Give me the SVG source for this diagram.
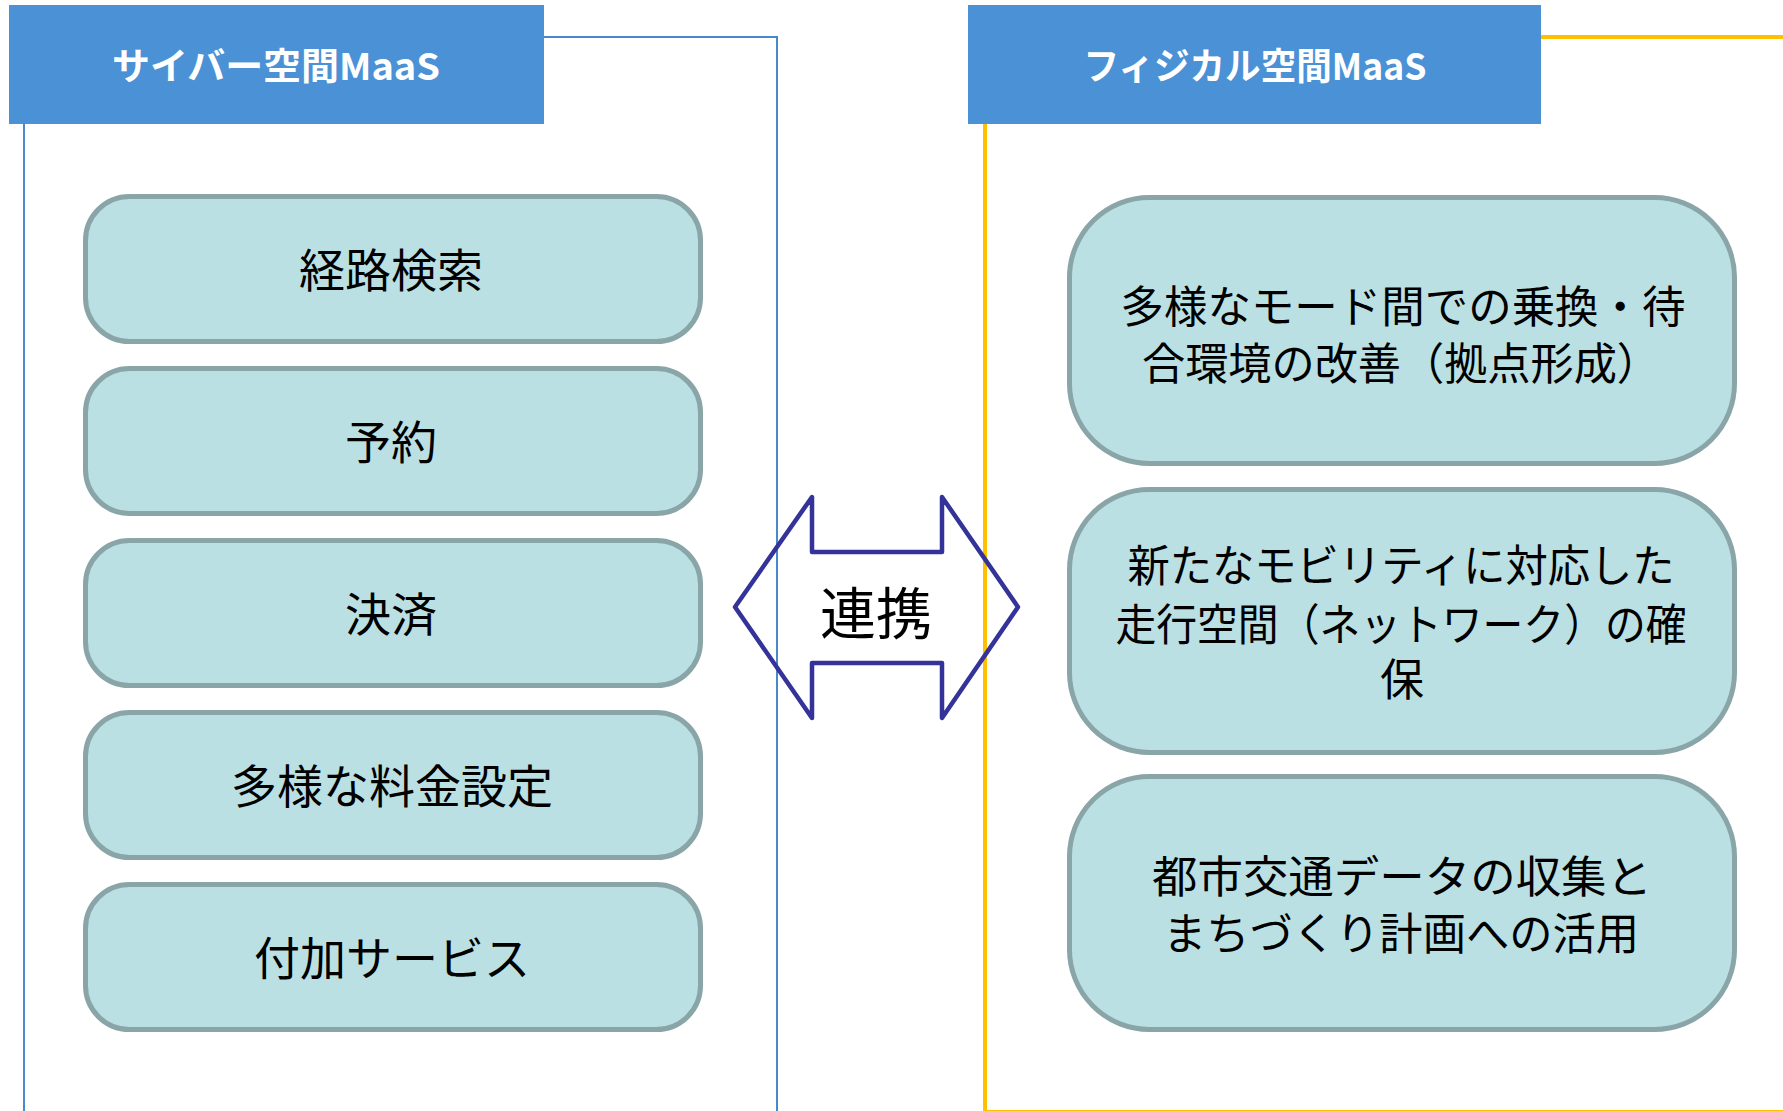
<svg xmlns="http://www.w3.org/2000/svg" width="1783" height="1111" viewBox="0 0 1783 1111">
<style>
.hdr{fill:#4a91d5}
.htxt{fill:#ffffff;font-family:"Noto Sans CJK JP","Noto Sans",sans-serif;font-weight:bold;font-size:37px;text-anchor:middle}
.box{fill:#bbe0e3;stroke:#89a5a7;stroke-width:5}
.t{fill:#000000;font-family:"Noto Sans CJK JP","Noto Sans",sans-serif;font-size:46px;text-anchor:middle}
.t2{fill:#000000;font-family:"Noto Sans CJK JP","Noto Sans",sans-serif;font-size:44px;text-anchor:middle}
</style>
<rect width="1783" height="1111" fill="#ffffff"/>
<g id="cyber">
  <rect x="24" y="37" width="753" height="1200" fill="none" stroke="#4a88cc" stroke-width="2"/>
  <rect class="hdr" x="9" y="5" width="535" height="119"/>
  <text class="htxt" x="276" y="80" textLength="328" lengthAdjust="spacingAndGlyphs">サイバー空間MaaS</text>
</g>
<g id="physical">
  <rect x="985" y="37" width="900" height="1075" fill="none" stroke="#ffc000" stroke-width="4"/>
  <rect class="hdr" x="968" y="5" width="573" height="119"/>
  <text class="htxt" x="1255" y="80" textLength="343" lengthAdjust="spacingAndGlyphs">フィジカル空間MaaS</text>
</g>
<g id="route">
  <rect class="box" x="85.5" y="196.5" width="615" height="145" rx="44" ry="44"/>
  <text class="t" x="391" y="287">経路検索</text>
</g>
<g id="reserve">
  <rect class="box" x="85.5" y="368.5" width="615" height="145" rx="44" ry="44"/>
  <text class="t" x="391" y="459">予約</text>
</g>
<g id="payment">
  <rect class="box" x="85.5" y="540.5" width="615" height="145" rx="44" ry="44"/>
  <text class="t" x="391" y="631">決済</text>
</g>
<g id="pricing">
  <rect class="box" x="85.5" y="712.5" width="615" height="145" rx="44" ry="44"/>
  <text class="t" x="392" y="803">多様な料金設定</text>
</g>
<g id="addon">
  <rect class="box" x="85.5" y="884.5" width="615" height="145" rx="44" ry="44"/>
  <text class="t" x="392" y="975">付加サービス</text>
</g>
<g id="transfer">
  <rect class="box" x="1069.5" y="197.5" width="665" height="266" rx="80" ry="80"/>
  <text class="t2"><tspan x="1403" y="323" textLength="565" lengthAdjust="spacingAndGlyphs">多様なモード間での乗換・待</tspan><tspan x="1401" y="380" textLength="518" lengthAdjust="spacingAndGlyphs">合環境の改善（拠点形成）</tspan></text>
</g>
<g id="mobility">
  <rect class="box" x="1069.5" y="489.5" width="665" height="263" rx="80" ry="80"/>
  <text class="t2"><tspan x="1401" y="582" textLength="547" lengthAdjust="spacingAndGlyphs">新たなモビリティに対応した</tspan><tspan x="1401" y="641" textLength="571" lengthAdjust="spacingAndGlyphs">走行空間（ネットワーク）の確</tspan><tspan x="1402" y="696">保</tspan></text>
</g>
<g id="data">
  <rect class="box" x="1069.5" y="776.5" width="665" height="253" rx="80" ry="80"/>
  <text class="t2"><tspan x="1402" y="893" textLength="500" lengthAdjust="spacingAndGlyphs">都市交通データの収集と</tspan><tspan x="1401" y="950" textLength="476" lengthAdjust="spacingAndGlyphs">まちづくり計画への活用</tspan></text>
</g>
<g id="connectors">
  <path d="M735,607 L812,497 L812,552 L942,552 L942,497 L1018,607 L942,718 L942,663 L812,663 L812,718 Z" fill="none" stroke="#333399" stroke-width="4.5" stroke-linejoin="round"/>
  <text x="876" y="634" font-family="&quot;Noto Sans CJK JP&quot;,&quot;Noto Sans&quot;,sans-serif" font-size="56" text-anchor="middle" fill="#000000">連携</text>
</g>
</svg>
